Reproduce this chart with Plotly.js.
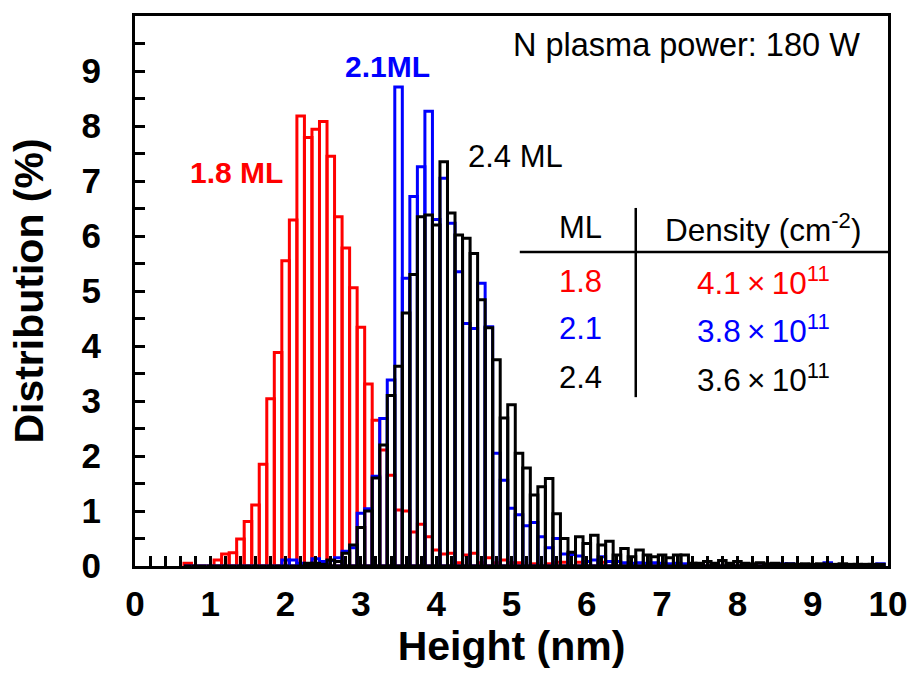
<!DOCTYPE html>
<html>
<head>
<meta charset="utf-8">
<script src="https://cdn.plot.ly/plotly-3.0.1.min.js"></script>
<style>html,body{margin:0;padding:0;background:#fff;}#chart{width:914px;height:673px;}</style>
</head>
<body>
<div id="chart"></div>
<script>
// Bin centres (nm), bin width 0.1 nm
const bins = [0.7,0.8,0.9,
1.0,1.1,1.2,1.3,1.4,1.5,1.6,1.7,1.8,1.9,
2.0,2.1,2.2,2.3,2.4,2.5,2.6,2.7,2.8,2.9,
3.0,3.1,3.2,3.3,3.4,3.5,3.6,3.7,3.8,3.9,
4.0,4.1,4.2,4.3,4.4,4.5,4.6,4.7,4.8,4.9,
5.0,5.1,5.2,5.3,5.4,5.5,5.6,5.7,5.8,5.9,
6.0,6.1,6.2,6.3,6.4,6.5,6.6,6.7,6.8,6.9,
7.0,7.1,7.2,7.3,7.4,7.5,7.6,7.7,7.8,7.9,
8.0,8.1,8.2,8.3,8.4,8.5,8.6,8.7,8.8,8.9,
9.0,9.1,9.2,9.3,9.4,9.5,9.6,9.7,9.8,9.9];

// Distribution (%) for 1.8 ML
const dist18 = [0.05,0,0,
0,0.11,0.22,0.24,0.49,0.81,1.11,1.85,3.04,3.88,
5.55,6.29,8.18,7.79,7.94,8.08,7.45,6.35,5.78,5.06,
4.34,3.31,2.65,2.11,1.65,1.02,1.0,0.62,0.76,0.53,
0.29,0.22,0.23,0.06,0.2,0.23,0.06,0.15,0.06,0.11,
0.06,0.06,0,0.04,0,0.04,0.07,0.07,0,0.07,
0,0,0.07,0,0,0,0,0,0,0,
0,0,0,0,0,0,0,0,0,0,
0,0,0,0,0,0.04,0,0,0,0,
0,0,0,0,0,0,0,0,0,0];

// Distribution (%) for 2.1 ML
const dist21 = [0,0,0,
0,0,0,0,0,0,0,0,0,0,
0.11,0.11,0.05,0.04,0.13,0.08,0.1,0.15,0.27,0.33,
0.96,1.04,1.63,2.68,3.38,8.71,5.23,6.72,7.26,8.27,
6.3,7.05,6.23,5.35,4.41,4.32,5.14,4.35,2.05,1.56,
1.05,0.93,0.73,0.79,0.53,0.33,0.5,0.22,0.21,0.18,
0.08,0.11,0.17,0.08,0.08,0.06,0.05,0.06,0.05,0.06,
0.05,0.04,0.05,0.04,0,0.04,0,0,0,0,
0,0,0,0,0,0.04,0.04,0.04,0,0,
0,0,0.06,0,0,0,0,0,0,0.04];

// Distribution (%) for 2.4 ML
const dist24 = [0,0,0,
0,0,0,0,0,0,0,0,0,0,
0,0,0,0.05,0.05,0.03,0.11,0.08,0.23,0.38,
0.7,1.0,1.6,2.2,3.1,3.63,4.6,5.3,6.35,6.38,
6.2,7.35,6.42,6.02,5.96,5.68,4.84,4.33,3.75,2.69,
2.93,2.05,1.78,1.29,1.44,1.59,0.95,0.5,0.25,0.53,
0.41,0.56,0.38,0.45,0.2,0.32,0.17,0.29,0.2,0.17,
0.2,0.15,0.2,0.2,0.05,0.05,0.08,0.05,0.1,0.05,
0.08,0.05,0.04,0.06,0.04,0.05,0.03,0.04,0.03,0.04,
0.03,0.04,0.03,0.03,0.04,0.03,0.03,0.03,0.03,0.03];

const xTickVals = [0,1,2,3,4,5,6,7,8,9,10];
const xTickText = ["0","1","2","3","4","5","6","7","8","9","10"];
const yTickVals = [0,1,2,3,4,5,6,7,8,9];
const yTickText = ["0","1","2","3","4","5","6","7","8","9"];
const yMinorVals = [0.5,1.5,2.5,3.5,4.5,5.5,6.5,7.5,8.5,9.5];

const tableML = ["1.8","2.1","2.4"];
const tableDensity = ["4.1\u2009\u00d7\u200910<sup>11</sup>","3.8\u2009\u00d7\u200910<sup>11</sup>","3.6\u2009\u00d7\u200910<sup>11</sup>"];
const seriesColors = ["#ff0000","#0000ff","#000000"];
const seriesLabels = ["1.8 ML","2.1ML","2.4 ML"];

const FONT = "Arial, 'Liberation Sans', sans-serif";

function barTrace(y, color){
  return {
    type:'bar', x:bins, y:y, width:0.1,
    marker:{color:'rgba(0,0,0,0)', line:{color:color, width:3}},
    hoverinfo:'skip', showlegend:false, cliponaxis:true
  };
}
const data = [barTrace(dist18, seriesColors[0]), barTrace(dist21, seriesColors[1]), barTrace(dist24, seriesColors[2])];

const ann = [];
function addText(x, y, text, color, size, bold){
  ann.push({x:x, y:y, xref:'x', yref:'y', text: bold ? '<b>'+text+'</b>' : text, showarrow:false,
    font:{family:FONT, size:size, color:color}, xanchor:'center', yanchor:'middle'});
}
addText(7.32, 9.47, "N plasma power: 180 W", "#000", 32.5, false);
addText(1.35, 7.16, seriesLabels[0], seriesColors[0], 30, true);
addText(3.35, 9.09, seriesLabels[1], seriesColors[1], 30, true);
addText(5.05, 7.44, seriesLabels[2], seriesColors[2], 31, false);
addText(5.91, 6.15, "ML", "#000", 31, false);
addText(8.34, 6.15, "Density (cm<sup>-2</sup>)", "#000", 31.5, false);
const rowY = [5.18, 4.31, 3.42];
for (let i=0;i<3;i++){
  addText(5.91, rowY[i], tableML[i], seriesColors[i], 31, false);
  addText(8.35, rowY[i], tableDensity[i], seriesColors[i], 31.5, false);
}

const layout = {
  width:914, height:673,
  margin:{l:135, r:26, t:16, b:107},
  paper_bgcolor:'#fff', plot_bgcolor:'#fff',
  barmode:'overlay', bargap:0,
  font:{family:FONT, color:'#000'},
  xaxis:{
    range:[0,10], showgrid:false, zeroline:false,
    showline:true, linewidth:3, linecolor:'#000', mirror:true,
    tickmode:'array', tickvals:xTickVals, ticktext:xTickText.map(t=>'<b>'+t+'</b>'),
    ticks:'inside', ticklen:10, tickwidth:3, tickcolor:'#000',
    minor:{dtick:0.2, tick0:0, ticks:'inside', ticklen:10, tickwidth:3, tickcolor:'#000', showgrid:false},
    tickfont:{family:FONT, size:35, color:'#000'},
    ticklabelstandoff:5,
    title:{text:'<b>Height (nm)</b>', font:{family:FONT, size:41, color:'#000'}, standoff:10},
    automargin:false
  },
  yaxis:{
    range:[0,10], showgrid:false, zeroline:false,
    showline:true, linewidth:3, linecolor:'#000', mirror:true,
    tickmode:'array', tickvals:yTickVals, ticktext:yTickText.map(t=>'<b>'+t+'</b>'),
    ticks:'inside', ticklen:10, tickwidth:3, tickcolor:'#000',
    minor:{tickmode:'array', tickvals:yMinorVals, ticks:'inside', ticklen:10, tickwidth:3, tickcolor:'#000', showgrid:false},
    tickfont:{family:FONT, size:35, color:'#000'},
    ticklabelstandoff:24,
    title:{text:'<b>Distribution (%)</b>', font:{family:FONT, size:41, color:'#000'}, standoff:26},
    automargin:false
  },
  shapes:[
    {type:'line', xref:'x', yref:'y', x0:5.11, x1:10, y0:5.71, y1:5.71, line:{color:'#000', width:2.5}},
    {type:'line', xref:'x', yref:'y', x0:6.65, x1:6.65, y0:3.07, y1:6.51, line:{color:'#000', width:2.5}}
  ],
  annotations:ann
};

Plotly.newPlot('chart', data, layout, {displayModeBar:false, staticPlot:true});
</script>
</body>
</html>
